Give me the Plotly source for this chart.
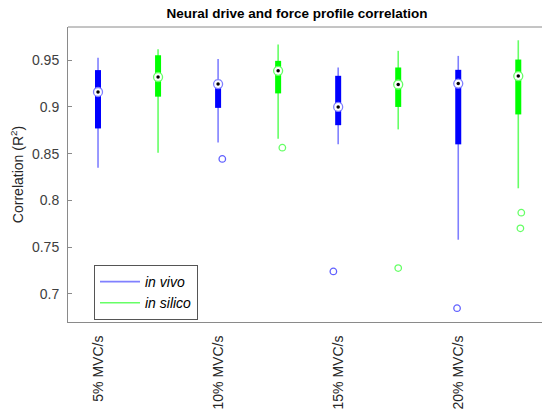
import plotly.graph_objects as go

# ---- data ----
groups = ["5% MVC/s", "10% MVC/s", "15% MVC/s", "20% MVC/s"]
series_names = ["in vivo", "in silico"]
positions = [1, 2, 3, 4, 5, 6, 7, 8]          # alternating in vivo / in silico
is_vivo = [True, False, True, False, True, False, True, False]
whisk_lo = [0.835, 0.851, 0.862, 0.866, 0.860, 0.876, 0.758, 0.813]
q1 = [0.877, 0.911, 0.899, 0.9145, 0.8805, 0.900, 0.860, 0.892]
median = [0.916, 0.932, 0.9245, 0.9386, 0.900, 0.924, 0.925, 0.933]
q3 = [0.9394, 0.9553, 0.929, 0.9493, 0.9333, 0.9422, 0.9397, 0.9507]
whisk_hi = [0.9525, 0.9617, 0.9514, 0.9667, 0.9422, 0.960, 0.9546, 0.9713]
outlier_pos = [3, 4, 5, 6, 7, 8, 8]
outlier_val = [0.8444, 0.8564, 0.7241, 0.7277, 0.6848, 0.7869, 0.7702]
outlier_jitter = [0.07, 0.07, -0.08, 0.0, -0.02, 0.05, 0.035]
tick_pos = [1, 3, 5, 7]

BOX = {True: "#0000ff", False: "#00ff00"}
WHISK = {True: "#8080ff", False: "#66ff66"}

fig = go.Figure()

for vivo, name in [(True, series_names[0]), (False, series_names[1])]:
    idx = [i for i in range(len(positions)) if is_vivo[i] == vivo]
    wx, wy, bx, by = [], [], [], []
    for i in idx:
        wx += [positions[i], positions[i], None]
        wy += [whisk_lo[i], whisk_hi[i], None]
        bx += [positions[i], positions[i], None]
        by += [q1[i], q3[i], None]
    fig.add_trace(go.Scatter(x=wx, y=wy, mode="lines", name="<i>" + name + "</i>",
                             line=dict(color=WHISK[vivo], width=1.6), showlegend=True,
                             hoverinfo="skip"))
    fig.add_trace(go.Scatter(x=bx, y=by, mode="lines", showlegend=False,
                             line=dict(color=BOX[vivo], width=6), hoverinfo="skip"))
    fig.add_trace(go.Scatter(x=[positions[i] for i in idx], y=[median[i] for i in idx],
                             mode="markers", showlegend=False,
                             marker=dict(symbol="circle", size=9, color="white",
                                         line=dict(color=WHISK[vivo], width=1.3))))
    fig.add_trace(go.Scatter(x=[positions[i] for i in idx], y=[median[i] for i in idx],
                             mode="markers", showlegend=False,
                             marker=dict(symbol="circle", size=3.5, color="black")))
    ox, oy = [], []
    for p, v, j in zip(outlier_pos, outlier_val, outlier_jitter):
        if is_vivo[positions.index(p)] == vivo:
            ox.append(p + j)
            oy.append(v)
    fig.add_trace(go.Scatter(x=ox, y=oy, mode="markers", showlegend=False,
                             marker=dict(symbol="circle-open", size=6.5,
                                         color=WHISK[vivo] if not vivo else "#6060ff",
                                         line=dict(width=1.3))))

axis_col = "#8a8a8a"
fig.update_layout(
    width=542, height=409,
    margin=dict(l=68, r=0, t=27, b=87),
    paper_bgcolor="white", plot_bgcolor="white",
    font=dict(family="Liberation Sans, Arial, sans-serif", color="#404040", size=13),
    title=dict(text="<b>Neural drive and force profile correlation</b>",
               x=297 / 542, xanchor="center", xref="container",
               y=1 - 13 / 409, yanchor="middle", yref="container",
               font=dict(size=13.5, color="#000000")),
    showlegend=True,
    legend=dict(x=(94 - 68) / 474, y=(322 - 265) / 295, xanchor="left", yanchor="top",
                bgcolor="white", bordercolor="#555555", borderwidth=1,
                font=dict(size=14, color="#000000"), tracegroupgap=0,
                itemwidth=40),
    xaxis=dict(range=[0.5, 8.395], tickvals=tick_pos, ticktext=groups,
               tickangle=-90, showgrid=False, zeroline=False, automargin=False,
               showline=True, linecolor=axis_col, linewidth=1, mirror=False,
               ticks="", ticklabelstandoff=7,
               tickfont=dict(size=14, color="#262626")),
    yaxis=dict(range=[0.67, 0.9855], tickvals=[0.7, 0.75, 0.8, 0.85, 0.9, 0.95],
               ticktext=["0.7", "0.75", "0.8", "0.85", "0.9", "0.95"],
               showgrid=False, zeroline=False, showline=True, linecolor=axis_col,
               linewidth=1, ticks="inside", ticklen=4, tickcolor=axis_col,
               automargin=False, mirror=False,
               ticklabelstandoff=5, tickfont=dict(size=14, color="#404040"),
               title=dict(text="Correlation (R<sup>2</sup>)", standoff=5,
                          font=dict(size=14, color="#262626"))),
    shapes=[dict(type="line", xref="paper", yref="paper", x0=0, x1=1, y0=1, y1=1,
                 line=dict(color=axis_col, width=1))],
)

fig.write_html("out.html")
